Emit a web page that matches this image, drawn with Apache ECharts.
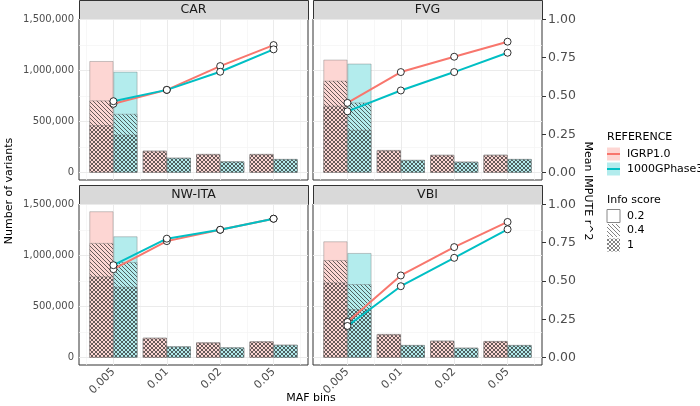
<!DOCTYPE html>
<html><head><meta charset="utf-8">
<script src="https://cdn.jsdelivr.net/npm/echarts@6/dist/echarts.min.js"></script>
<style>html,body{margin:0;padding:0;background:#fff}#c{width:700px;height:406px}</style>
</head><body><div id="c"></div>
<script>
// ---------- data ----------
const mafBins = ['0.005', '0.01', '0.02', '0.05'];
const panelNames = ['CAR', 'FVG', 'NW-ITA', 'VBI'];
const referenceNames = ['IGRP1.0', '1000GPhase3'];
const infoLevels = ['0.2', '0.4', '1'];
const leftTicks = [0, 500000, 1000000, 1500000];
const leftMinorTicks = [250000, 750000, 1250000];
const rightTicks = [0, 0.25, 0.5, 0.75, 1];
const xMajorTicks = [0, 1, 2, 3];
const xMinorTicks = [-0.5, 0.5, 1.5, 2.5, 3.5];

// number of variants per MAF bin, split by info score (1 = bottom, 0.4 = middle, 0.2 = top)
const CAR_IGRP_info1  = [464000, 208000, 177000, 178000];
const CAR_IGRP_info04 = [242000, 6000, 5000, 4000];
const CAR_IGRP_info02 = [385000, 2000, 1000, 1000];
const CAR_1KG_info1   = [372000, 142000, 107000, 130000];
const CAR_1KG_info04  = [203000, 4000, 3000, 3000];
const CAR_1KG_info02  = [412000, 1000, 1000, 1000];

const FVG_IGRP_info1  = [654000, 214000, 169000, 170000];
const FVG_IGRP_info04 = [245000, 6000, 5000, 5000];
const FVG_IGRP_info02 = [206000, 2000, 1000, 1000];
const FVG_1KG_info1   = [418000, 120000, 104000, 130000];
const FVG_1KG_info04  = [268000, 4000, 3000, 3000];
const FVG_1KG_info02  = [380000, 1000, 1000, 1000];

const NWITA_IGRP_info1  = [794000, 188000, 144000, 155000];
const NWITA_IGRP_info04 = [327000, 6000, 5000, 4000];
const NWITA_IGRP_info02 = [310000, 2000, 1000, 1000];
const NWITA_1KG_info1   = [693000, 107000, 97000, 123000];
const NWITA_1KG_info04  = [242000, 3000, 3000, 3000];
const NWITA_1KG_info02  = [251000, 1000, 1000, 1000];

const VBI_IGRP_info1  = [735000, 224000, 161000, 158000];
const VBI_IGRP_info04 = [219000, 6000, 5000, 4000];
const VBI_IGRP_info02 = [183000, 2000, 1000, 1000];
const VBI_1KG_info1   = [474000, 120000, 94000, 120000];
const VBI_1KG_info04  = [245000, 3000, 3000, 3000];
const VBI_1KG_info02  = [304000, 1000, 1000, 1000];

// mean IMPUTE r^2 per MAF bin
const CAR_IGRP_r2   = [0.449, 0.540, 0.695, 0.832];
const CAR_1KG_r2    = [0.466, 0.540, 0.658, 0.804];
const FVG_IGRP_r2   = [0.455, 0.656, 0.756, 0.854];
const FVG_1KG_r2    = [0.400, 0.536, 0.656, 0.782];
const NWITA_IGRP_r2 = [0.577, 0.760, 0.834, 0.906];
const NWITA_1KG_r2  = [0.603, 0.776, 0.834, 0.906];
const VBI_IGRP_r2   = [0.233, 0.536, 0.721, 0.885];
const VBI_1KG_r2    = [0.207, 0.466, 0.651, 0.837];

// ---------- assembly ----------
const counts = [
  [[CAR_IGRP_info1, CAR_IGRP_info04, CAR_IGRP_info02], [CAR_1KG_info1, CAR_1KG_info04, CAR_1KG_info02]],
  [[FVG_IGRP_info1, FVG_IGRP_info04, FVG_IGRP_info02], [FVG_1KG_info1, FVG_1KG_info04, FVG_1KG_info02]],
  [[NWITA_IGRP_info1, NWITA_IGRP_info04, NWITA_IGRP_info02], [NWITA_1KG_info1, NWITA_1KG_info04, NWITA_1KG_info02]],
  [[VBI_IGRP_info1, VBI_IGRP_info04, VBI_IGRP_info02], [VBI_1KG_info1, VBI_1KG_info04, VBI_1KG_info02]]
];
const r2 = [
  [CAR_IGRP_r2, CAR_1KG_r2], [FVG_IGRP_r2, FVG_1KG_r2],
  [NWITA_IGRP_r2, NWITA_1KG_r2], [VBI_IGRP_r2, VBI_1KG_r2]
];

const FONT = 'DejaVu Sans';
const LEFT_FS = 10, RIGHT_FS = 12.5, X_FS = 11;
const lineColors = ['#F8766D', '#00BFC4'];
const lightFills = ['#FDD6D3', '#B3ECED'];
const Y_MIN = -71500, Y_MAX = 1503000, SEC = 1500000;

function makePattern(bg, kind, lineCol) {
  const s = 4;
  const c = document.createElement('canvas');
  c.width = s; c.height = s;
  const g = c.getContext('2d');
  g.fillStyle = bg; g.fillRect(0, 0, s, s);
  if (kind === 'none') return c;
  g.strokeStyle = lineCol || 'rgba(30,30,30,0.85)';
  g.lineWidth = 0.8;
  g.beginPath();
  for (let k = -1; k <= 1; k++) { g.moveTo(-1, -1 + k * s); g.lineTo(s + 1, s + 1 + k * s); }
  if (kind === 'cross') {
    for (let k = -1; k <= 1; k++) { g.moveTo(-1, s + 1 + k * s); g.lineTo(s + 1, -1 + k * s); }
  }
  g.stroke();
  return c;
}
// fills per reference: [info 1 (cross-hatch), info 0.4 (diagonal), info 0.2 (plain)]
const fills = lightFills.map(bg => [
  { image: makePattern(bg, 'cross'), repeat: 'repeat' },
  { image: makePattern(bg, 'diag'), repeat: 'repeat' },
  bg
]);

const panelBoxes = [
  { left: 79, top: 19 }, { left: 313, top: 19 },
  { left: 79, top: 204 }, { left: 313, top: 204 }
];
const PW = 229, PH = 161;

const fmtInt = v => String(Math.round(v)).replace(/\B(?=(\d{3})+(?!\d))/g, ',');

const grids = [], xAxes = [], yAxes = [], series = [], graphics = [];
panelBoxes.forEach((b, p) => {
  const leftCol = p % 2 === 0, rightCol = p % 2 === 1, bottomRow = p >= 2;
  grids.push({ left: b.left, top: b.top, width: PW, height: PH, show: true,
    backgroundColor: '#fff', borderColor: '#333333', borderWidth: 1, containLabel: false });
  xAxes.push({ gridIndex: p, type: 'value', min: -0.645, max: 3.645,
    axisLine: { show: false }, splitLine: { show: false },
    axisTick: { show: bottomRow, customValues: xMajorTicks, length: 4, lineStyle: { color: '#333333' } },
    axisLabel: { show: bottomRow, customValues: xMajorTicks, rotate: 45, margin: 5,
      fontFamily: FONT, fontSize: X_FS, color: '#4D4D4D',
      formatter: v => Number.isInteger(v) ? mafBins[v] : '' } });
  yAxes.push({ gridIndex: p, type: 'value', min: Y_MIN, max: Y_MAX, position: 'left',
    axisLine: { show: false }, splitLine: { show: false },
    axisTick: { show: leftCol, customValues: leftTicks, length: 4, lineStyle: { color: '#333333' } },
    axisLabel: { show: leftCol, customValues: leftTicks, margin: 5, fontFamily: FONT, fontSize: LEFT_FS, color: '#4D4D4D',
      formatter: v => leftTicks.includes(v) ? fmtInt(v) : '' } });
  yAxes.push({ gridIndex: p, type: 'value', min: Y_MIN / SEC, max: Y_MAX / SEC, position: 'right',
    axisLine: { show: false }, splitLine: { show: false },
    axisTick: { show: rightCol, customValues: rightTicks, length: 4, lineStyle: { color: '#333333' } },
    axisLabel: { show: rightCol, customValues: rightTicks, margin: 6, fontFamily: FONT, fontSize: RIGHT_FS, color: '#4D4D4D',
      formatter: v => rightTicks.includes(v) ? v.toFixed(2) : '' } });

  // grid lines (panel background)
  series.push({ type: 'line', xAxisIndex: p, yAxisIndex: 2 * p, data: [], silent: true,
    markLine: { silent: true, symbol: ['none', 'none'], z: 1, animation: false, label: { show: false },
      data: [
        ...leftMinorTicks.map(v => ({ yAxis: v, lineStyle: { color: '#F3F3F3', width: 0.7, type: 'solid' } })),
        ...xMinorTicks.map(v => ({ xAxis: v, lineStyle: { color: '#F3F3F3', width: 0.7, type: 'solid' } })),
        ...leftTicks.map(v => ({ yAxis: v, lineStyle: { color: '#EBEBEB', width: 1, type: 'solid' } })),
        ...xMajorTicks.map(v => ({ xAxis: v, lineStyle: { color: '#EBEBEB', width: 1, type: 'solid' } }))
      ] } });

  // stacked bars: segments drawn as overlapping bars reaching the cumulative stack top,
  // tallest (info 0.2 top) first, then info 0.4 top, then info 1 on top
  [0, 1].forEach(r => {
    const off = r === 0 ? -0.225 : 0.225;
    const lv = counts[p][r];
    const tops = [
      lv[0],
      lv[0].map((v, i) => v + lv[1][i]),
      lv[0].map((v, i) => v + lv[1][i] + lv[2][i])
    ];
    [2, 1, 0].forEach(lvl => {
      series.push({ type: 'bar', name: referenceNames[r] + ' / info ' + infoLevels[2 - lvl],
        xAxisIndex: p, yAxisIndex: 2 * p,
        barWidth: 24, barGap: '-100%', silent: true, animation: false,
        itemStyle: { color: fills[r][lvl], borderColor: 'rgba(110,110,110,0.55)', borderWidth: 0.7 },
        data: tops[lvl].map((v, i) => [i + off, v]) });
    });
  });
});
// r^2 lines drawn after all bars
panelBoxes.forEach((b, p) => {
  [0, 1].forEach(r => {
    series.push({ type: 'line', name: referenceNames[r], xAxisIndex: p, yAxisIndex: 2 * p + 1,
      data: r2[p][r].map((v, i) => [i, v]), animation: false, silent: true,
      lineStyle: { color: lineColors[r], width: 2 }, symbol: 'circle', symbolSize: 7,
      itemStyle: { color: '#ffffff', borderColor: '#000000', borderWidth: 0.8 }, z: 3 });
  });
});

// strips
panelBoxes.forEach((b, p) => {
  graphics.push({ type: 'rect', left: b.left, top: b.top - 19, shape: { width: PW, height: 19 },
    style: { fill: '#D9D9D9', stroke: '#333333', lineWidth: 1 }, silent: true });
  graphics.push({ type: 'text', x: b.left + PW / 2, y: b.top - 9.5,
    style: { text: panelNames[p], fontFamily: FONT, fontSize: 12.5, fill: '#1A1A1A', align: 'center', verticalAlign: 'middle' } });
});
// axis titles
graphics.push({ type: 'text', x: 311, y: 398, style: { text: 'MAF bins', fontFamily: FONT, fontSize: 11, fill: '#000', align: 'center', verticalAlign: 'middle' } });
graphics.push({ type: 'text', x: 9, y: 191, rotation: Math.PI / 2, style: { text: 'Number of variants', fontFamily: FONT, fontSize: 11, fill: '#000', align: 'center', verticalAlign: 'middle' } });
graphics.push({ type: 'text', x: 588, y: 191, rotation: -Math.PI / 2, style: { text: 'Mean IMPUTE r^2', fontFamily: FONT, fontSize: 11, fill: '#000', align: 'center', verticalAlign: 'middle' } });
// legend: REFERENCE
graphics.push({ type: 'text', x: 607, y: 137, style: { text: 'REFERENCE', fontFamily: FONT, fontSize: 11, fill: '#000', align: 'left', verticalAlign: 'middle' } });
referenceNames.forEach((nm, r) => {
  const cy = 154 + r * 15;
  graphics.push({ type: 'rect', shape: { x: 607, y: cy - 6.5, width: 13, height: 13 }, style: { fill: lightFills[r] } });
  graphics.push({ type: 'line', shape: { x1: 607, y1: cy, x2: 620, y2: cy }, style: { stroke: lineColors[r], lineWidth: 2 } });
  graphics.push({ type: 'text', x: 627, y: cy, style: { text: nm, fontFamily: FONT, fontSize: 11, fill: '#000', align: 'left', verticalAlign: 'middle' } });
});
// legend: Info score
graphics.push({ type: 'text', x: 607, y: 200, style: { text: 'Info score', fontFamily: FONT, fontSize: 11, fill: '#000', align: 'left', verticalAlign: 'middle' } });
const keyFills = ['#ffffff', { image: makePattern('#ffffff', 'diag', 'rgba(60,60,60,0.8)'), repeat: 'repeat' }, { image: makePattern('#ffffff', 'cross', 'rgba(60,60,60,0.8)'), repeat: 'repeat' }];
infoLevels.forEach((lv, k) => {
  const cy = 216 + k * 14.5;
  graphics.push({ type: 'rect', shape: { x: 607, y: cy - 6.5, width: 13, height: 13 },
    style: { fill: keyFills[k], stroke: k === 0 ? '#888' : 'none', lineWidth: 1 } });
  graphics.push({ type: 'text', x: 627, y: cy, style: { text: lv, fontFamily: FONT, fontSize: 11, fill: '#000', align: 'left', verticalAlign: 'middle' } });
});

const chart = echarts.init(document.getElementById('c'), null, { renderer: 'canvas' });
chart.setOption({
  animation: false,
  backgroundColor: '#ffffff',
  textStyle: { fontFamily: FONT },
  grid: grids, xAxis: xAxes, yAxis: yAxes, series: series, graphic: graphics
});
</script>
</body></html>
